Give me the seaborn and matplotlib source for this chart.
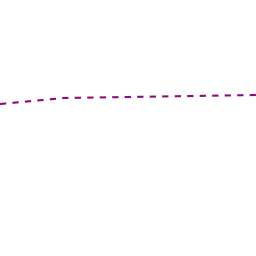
import matplotlib
matplotlib.use("Agg")
import matplotlib.pyplot as plt
import seaborn as sns
import pandas as pd

x = [0, 1, 2, 3, 4]
y = [152, 158, 159, 160, 161]

df = pd.DataFrame({"x": x, "y": y})

fig = plt.figure(figsize=(2.56, 2.56), dpi=100)
ax = fig.add_axes([0, 0, 1, 1])
sns.lineplot(data=df, x="x", y="y", ax=ax, color="#8b0a7e", linewidth=1.5,
             dashes=False, linestyle=(0, (3.0, 3.0)))
ax.set_xlim(0, 4)
ax.set_ylim(0, 256)
ax.axis("off")
fig.savefig("out.png", dpi=100)
